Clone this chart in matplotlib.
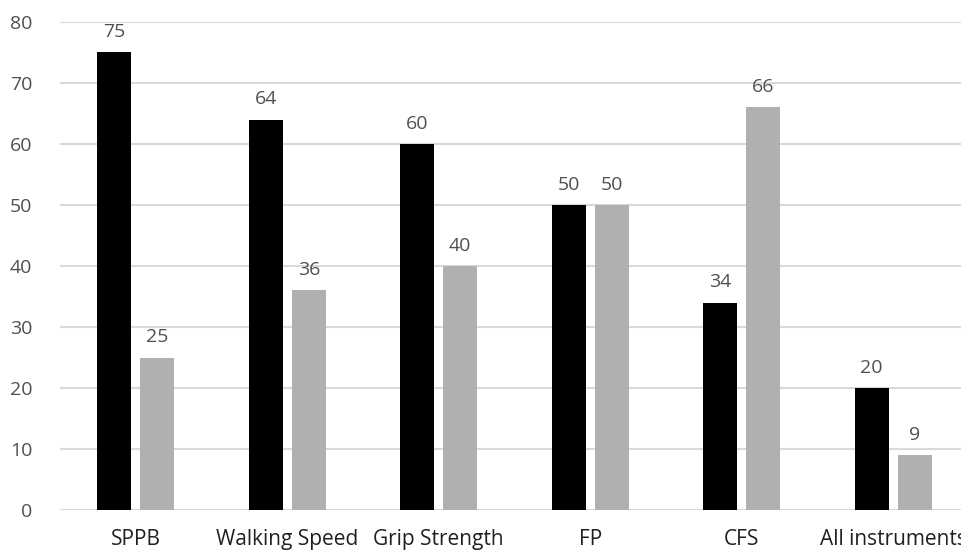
import matplotlib.pyplot as plt
import numpy as np

categories = ["SPPB", "Walking Speed", "Grip Strength", "FP", "CFS", "All instruments"]
series_a = [75, 64, 60, 50, 34, 20]
series_b = [25, 36, 40, 50, 66, 9]

plt.rcParams['font.family'] = ['Open Sans', 'DejaVu Sans']

fig = plt.figure(figsize=(9.61, 5.52), dpi=100)
ax = fig.add_axes([60 / 961, 42 / 552, 909 / 961, 488 / 552])

x = np.arange(len(categories))
w = 0.224
off = 0.142
bars_a = ax.bar(x - off, series_a, w, color='#000000', zorder=3)
bars_b = ax.bar(x + off, series_b, w, color='#b0b0b0', zorder=3)

for bars in (bars_a, bars_b):
    for b in bars:
        ax.annotate(str(int(b.get_height())),
                    (b.get_x() + b.get_width() / 2, b.get_height()),
                    xytext=(0, 8), textcoords='offset points',
                    ha='center', va='bottom', fontsize=14, color='#505050')

ax.set_xlim(-0.5, len(categories) - 0.5)
ax.set_ylim(0, 80)
ax.set_yticks(range(0, 81, 10))
ax.yaxis.grid(True, color='#d9d9d9', linewidth=1.5, zorder=0)
ax.set_xticks(x)
ax.set_xticklabels(categories, color='#202020', fontsize=15)
ax.tick_params(axis='both', length=0)
ax.tick_params(axis='x', pad=14)
ax.tick_params(axis='y', pad=20, labelcolor='#505050', labelsize=14)
for s in ax.spines.values():
    s.set_visible(False)

fig.savefig('out.png', dpi=100)
